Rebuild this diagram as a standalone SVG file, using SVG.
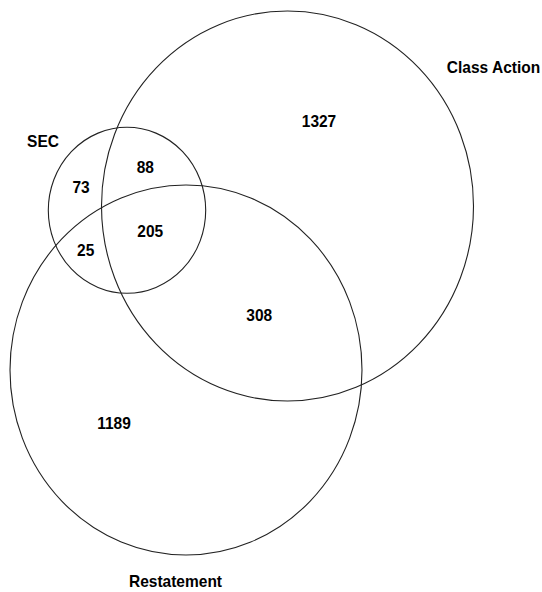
<svg xmlns="http://www.w3.org/2000/svg" width="542" height="592" viewBox="0 0 542 592">
<style>
.c{fill:none;stroke:#222;stroke-width:1.1}
.t{font-family:"Liberation Sans",Arial,sans-serif;font-weight:bold;font-size:15.5px;fill:#000;text-anchor:middle}
</style>
<rect width="542" height="592" fill="#fff"/>
<g id="class-action">
<ellipse class="c" cx="287.5" cy="206" rx="186" ry="195"/>
<text class="t" transform="translate(493.5,73) scale(1,1.06)">Class Action</text>
<text class="t" transform="translate(319,126.5) scale(1,1.08)">1327</text>
</g>
<g id="sec">
<ellipse class="c" cx="127" cy="210.3" rx="78.7" ry="83"/>
<text class="t" transform="translate(43,146.5) scale(1,1.06)">SEC</text>
<text class="t" transform="translate(81,192.5) scale(1,1.08)">73</text>
</g>
<g id="restatement">
<ellipse class="c" cx="186" cy="370" rx="176" ry="185"/>
<text class="t" transform="translate(175.5,586.5) scale(1,1.06)">Restatement</text>
<text class="t" transform="translate(114,429) scale(1,1.08)">1189</text>
</g>
<g id="overlaps">
<text class="t" transform="translate(145.3,173) scale(1,1.08)">88</text>
<text class="t" transform="translate(150.3,237) scale(1,1.08)">205</text>
<text class="t" transform="translate(85.7,256) scale(1,1.08)">25</text>
<text class="t" transform="translate(259.3,321) scale(1,1.08)">308</text>
</g>
<g id="connectors"></g>
</svg>
